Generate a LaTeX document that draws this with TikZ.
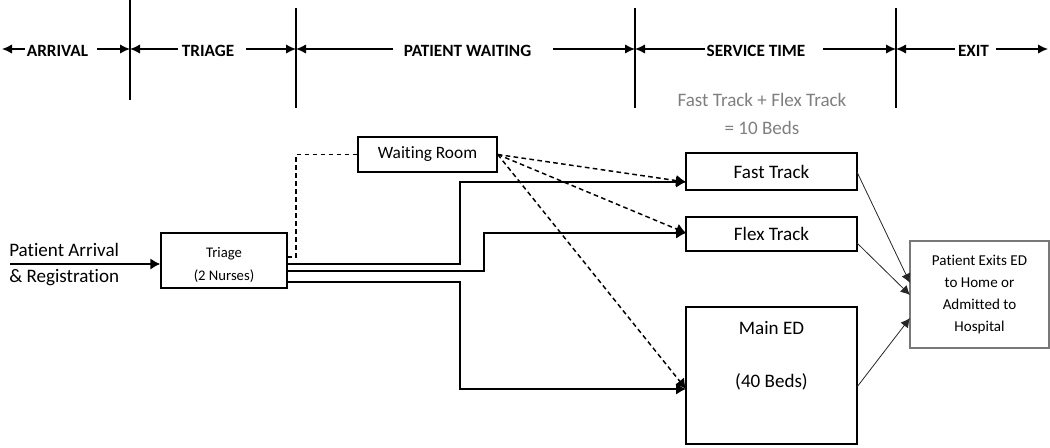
\documentclass[tikz,border=0pt]{standalone}
\usepackage{fontspec}
\setmainfont{Carlito}[Ligatures={NoCommon,NoRare}]
\usetikzlibrary{arrows.meta,fit,calc}
\definecolor{capgray}{RGB}{127,127,127}
\definecolor{exitgray}{RGB}{120,120,120}
\begin{document}
\begin{tikzpicture}[x=0.75pt,y=-0.75pt,
  tl/.style={line width=1.1pt,-{Latex[length=7.5pt,width=7pt]}},
  vline/.style={line width=1.1pt},
  tltext/.style={font=\fontsize{12.9}{15}\selectfont\bfseries, inner sep=0pt},
  box/.style={draw, line width=1.1pt, inner sep=0pt, align=center},
  bigfont/.style={font=\fontsize{14.3}{17}\selectfont},
  flow/.style={line width=1.1pt, -{Latex[length=7.5pt,width=8.5pt]}},
  wline/.style={line width=1.1pt, dash pattern=on 3.5pt off 2.5pt},
  wflow/.style={wline, -{Latex[length=7.5pt,width=8.5pt]}},
  xflow/.style={line width=0.6pt, draw=black!85, -{Latex[length=7pt,width=7pt]}},
  lbl/.style={inner sep=0pt, align=center}
]
\useasboundingbox (0,0) rectangle (1050,447);

% ---- timeline ----
\coordinate (v1t) at (130,0);   \coordinate (v1b) at (130,100);
\coordinate (v2t) at (296,8);   \coordinate (v2b) at (296,108);
\coordinate (v3t) at (635,8);   \coordinate (v3b) at (635,108);
\coordinate (v4t) at (896,8);   \coordinate (v4b) at (896,108);
\draw[vline] (v1t) -- (v1b);
\draw[vline] (v2t) -- (v2b);
\draw[vline] (v3t) -- (v3b);
\draw[vline] (v4t) -- (v4b);

\node[tltext] (tArr)  at (57.5,51)  {ARRIVAL};
\node[tltext] (tTri)  at (208,51)   {TRIAGE};
\node[tltext] (tWait) at (467.5,51) {PATIENT WAITING};
\node[tltext] (tServ) at (756,51)   {SERVICE TIME};
\node[tltext] (tExit) at (973.5,51) {EXIT};

\coordinate (a0) at (2,49);    \coordinate (a1) at (25,49);
\coordinate (a2) at (97,49);   \coordinate (a3) at (130,49);
\coordinate (b1) at (178,49);  \coordinate (b2) at (246,49);
\coordinate (b3) at (296,49);
\coordinate (c1) at (393,49);  \coordinate (c2) at (553,49);
\coordinate (c3) at (635,49);
\coordinate (d1) at (705,49);  \coordinate (d2) at (823,49);
\coordinate (d3) at (896,49);
\coordinate (e1) at (955,49);  \coordinate (e2) at (996,49);
\coordinate (e3) at (1048,49);
\draw[tl] (a1) -- (a0);  \draw[tl] (a2) -- (a3);
\draw[tl] (b1) -- (a3);  \draw[tl] (b2) -- (b3);
\draw[tl] (c1) -- (b3);  \draw[tl] (c2) -- (c3);
\draw[tl] (d1) -- (c3);  \draw[tl] (d2) -- (d3);
\draw[tl] (e1) -- (d3);  \draw[tl] (e2) -- (e3);

\node[lbl, text=capgray, font=\fontsize{14.3}{21}\selectfont] (cap) at (762,114) {Fast Track + Flex Track\\= 10 Beds};

% ---- boxes ----
\node[box, minimum width=94.5pt, minimum height=41.25pt] (tri) at (224,260.5) {};
\node[lbl, font=\fontsize{11}{17.3}\selectfont] (triText) at (224,264.5) {Triage\\(2 Nurses)};
\node[box, font=\fontsize{13}{15}\selectfont, minimum width=104.25pt, minimum height=26.25pt] (wait) at (427.5,154.5) {Waiting Room};
\node[box, bigfont, minimum width=128.25pt, minimum height=27.75pt] (fast) at (771.5,171.5) {Fast Track};
\node[box, bigfont, minimum width=128.25pt, minimum height=25.5pt] (flex) at (771.5,234) {Flex Track};
\node[box, fit={(686,307) (857,444)}] (main) {};
\node[lbl, bigfont] (mainA) at (771.5,328) {Main ED};
\node[lbl, bigfont] (mainB) at (771.5,382) {(40 Beds)};
\node[box, draw=exitgray, line width=0.8pt, font=\fontsize{11.3}{16.3}\selectfont, minimum width=104.25pt, minimum height=80.25pt] (exit) at (979.5,294.5) {Patient Exits ED\\to Home or\\Admitted to\\Hospital};

\node[lbl, align=left, anchor=west, font=\fontsize{14.3}{19.5}\selectfont] (arr) at (9,265) {Patient Arrival\\\& Registration};

% ---- connectors ----
\coordinate (arrIn) at (10,264);
\draw[flow] (arrIn) -- (tri.west |- arrIn);

\coordinate (o0) at (287,257);
\coordinate (o1) at (287,264);
\coordinate (o2) at (287,271);
\coordinate (o3) at (287,282);
\coordinate (j0) at (296,154.5);
\coordinate (j1) at (460,182);
\coordinate (j2) at (484,233);
\coordinate (j3) at (460,389);
\coordinate (fastIn) at (686,182);
\coordinate (flexIn) at (686,233);
\coordinate (mainIn) at (686,389);

\draw[wline] (o0) -| (j0) -- (wait.west);
\draw[flow] (o1) -| (j1) -- (fastIn);
\draw[flow] (o2) -| (j2) -- (flexIn);
\draw[flow] (o3) -| (j3) -- (mainIn);

\draw[wflow] (wait.east) -- (fastIn);
\draw[wflow] (wait.east) -- (flexIn);
\draw[wflow] (wait.east) -- (mainIn);

\coordinate (fastOut) at (857,172);
\coordinate (flexOut) at (857,243);
\coordinate (mainOut) at (857,387);
\coordinate (x1) at (910,283);
\coordinate (x2) at (910,295);
\coordinate (x3) at (910,318);
\draw[xflow] (fastOut) -- (x1);
\draw[xflow] (flexOut) -- (x2);
\draw[xflow] (mainOut) -- (x3);
\end{tikzpicture}
\end{document}
